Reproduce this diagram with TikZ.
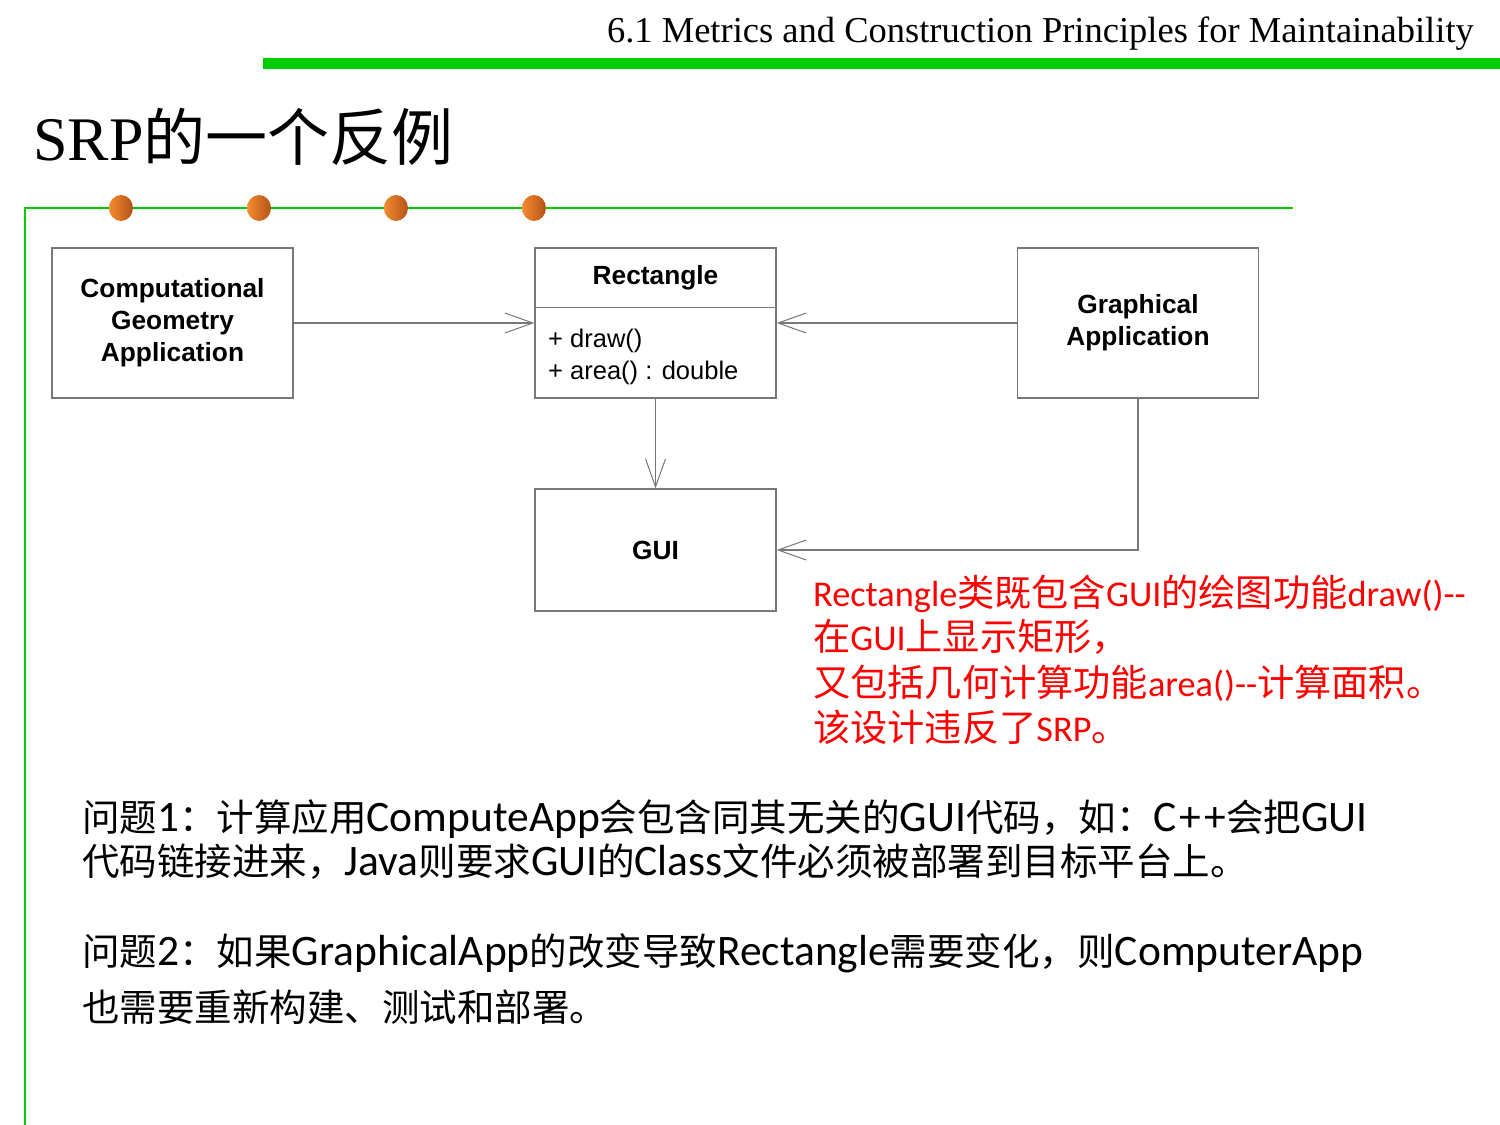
\documentclass[tikz,border=0pt]{standalone}
\usepackage{fontspec}
\setmainfont{Carlito}
\newfontfamily\cjk[Scale=1.025]{Noto Sans CJK SC}
\newfontfamily\cjkb[Scale=0.862]{Noto Sans CJK SC}
\newfontfamily\cjkt{Noto Sans CJK SC}
\newfontfamily\arialf{Liberation Sans}
\newfontfamily\timesf{Liberation Serif}
\let\zhfont\cjk
\newcommand\zh[1]{{\zhfont #1}}
\usetikzlibrary{arrows.meta}
\definecolor{sgreen}{RGB}{0,204,0}
\definecolor{dotA}{RGB}{245,140,50}
\definecolor{dotB}{RGB}{178,82,22}
\definecolor{boxgray}{RGB}{120,120,120}
\definecolor{redtxt}{RGB}{255,0,0}
\begin{document}
\begin{tikzpicture}[x=1pt,y=-1pt,
  box/.style={draw=boxgray,line width=1.3pt,minimum width=241pt,inner sep=0pt,align=center,
    font=\arialf\bfseries\fontsize{26.3}{32}\selectfont},
  arr/.style={draw=boxgray,line width=1.2pt,-{Straight Barb[length=28pt,width=20pt,line width=1pt]}},
  dot/.style={left color=dotA,right color=dotB},
  redline/.style={anchor=base west,inner sep=0pt,text=redtxt,font=\let\zhfont\cjk\fontsize{36.3}{44}\selectfont},
  bodyline/.style={anchor=base west,inner sep=0pt,font=\let\zhfont\cjkb\fontsize{43.5}{50}\selectfont}]
\useasboundingbox (0,0) rectangle (1500,1125);
\fill[white] (0,0) rectangle (1500,1125);
% header
\node[anchor=base east,inner sep=0pt] (hdr) at (1474,42) {\timesf\fontsize{36.5}{44}\selectfont 6.1 Metrics and Construction Principles for Maintainability};
\fill[sgreen] (263,58) rectangle (1500,69);
% title
\node[anchor=base west,inner sep=0pt] (title) at (33,160) {\timesf\fontsize{62}{70}\selectfont SRP{\cjkt 的一个反例}};
% frame lines
\draw[sgreen,line width=2pt] (25,1125) -- (25,208) -- (1293,208);
\foreach \x in {121,259,396,534}{\shade[dot] (\x,208) ellipse [x radius=12pt,y radius=13pt];}
% boxes
\node[box,minimum height=150pt] (cga) at (172.5,323) {Computational\\Geometry\\Application};
\node[box,minimum height=150pt] (rect) at (655.5,323) {};
\draw[boxgray,line width=1.3pt] ([yshift=-60pt]rect.north west) -- ([yshift=-60pt]rect.north east);
\node[font=\arialf\bfseries\fontsize{26.3}{32}\selectfont] (rname) at (655.5,278) {Rectangle};
\node[anchor=west,inner sep=0pt,font=\arialf\fontsize{25.5}{32}\selectfont] (m1) at (548,341) {+ draw()};
\node[anchor=west,inner sep=0pt,font=\arialf\fontsize{25.5}{32}\selectfont] (m2) at (548,373) {+ area() : double};
\node[box,minimum height=150pt] (ga) at (1138,323) {Graphical\\Application};
\node[box,minimum height=122pt] (gui) at (655.5,550) {GUI};
% connectors
\draw[arr] (cga.east) -- (rect.west);
\draw[arr] (ga.west) -- (rect.east);
\draw[arr] (rect.south) -- (gui.north);
\draw[arr] (ga.south) |- (gui.east);
% red note
\node[redline] (r1) at (813,606) {Rectangle\zh{类既包含}GUI\zh{的绘图功能}draw()-{}-};
\node[redline] (r2) at (813,650) {\zh{在}GUI\zh{上显示矩形，}};
\node[redline] (r3) at (813,696) {\zh{又包括几何计算功能}area()-{}-\zh{计算面积。}};
\node[redline] (r4) at (813,741) {\zh{该设计违反了}SRP\zh{。}};
% body text
\node[bodyline] (b1) at (82,831) {\zh{问题}1\zh{：计算应用}ComputeApp\zh{会包含同其无关的}GUI\zh{代码，如：}C{\kern3pt}+{\kern3pt}+\zh{会把}GUI};
\node[bodyline] (b2) at (82,875) {\zh{代码链接进来，}Java\zh{则要求}GUI\zh{的}Class\zh{文件必须被部署到目标平台上。}};
\node[bodyline] (b3) at (82,965) {\zh{问题}2\zh{：如果}GraphicalApp\zh{的改变导致}Rectangle\zh{需要变化，则}ComputerApp};
\node[bodyline] (b4) at (82,1021) {\zh{也需要重新构建、测试和部署。}};
\end{tikzpicture}
\end{document}
